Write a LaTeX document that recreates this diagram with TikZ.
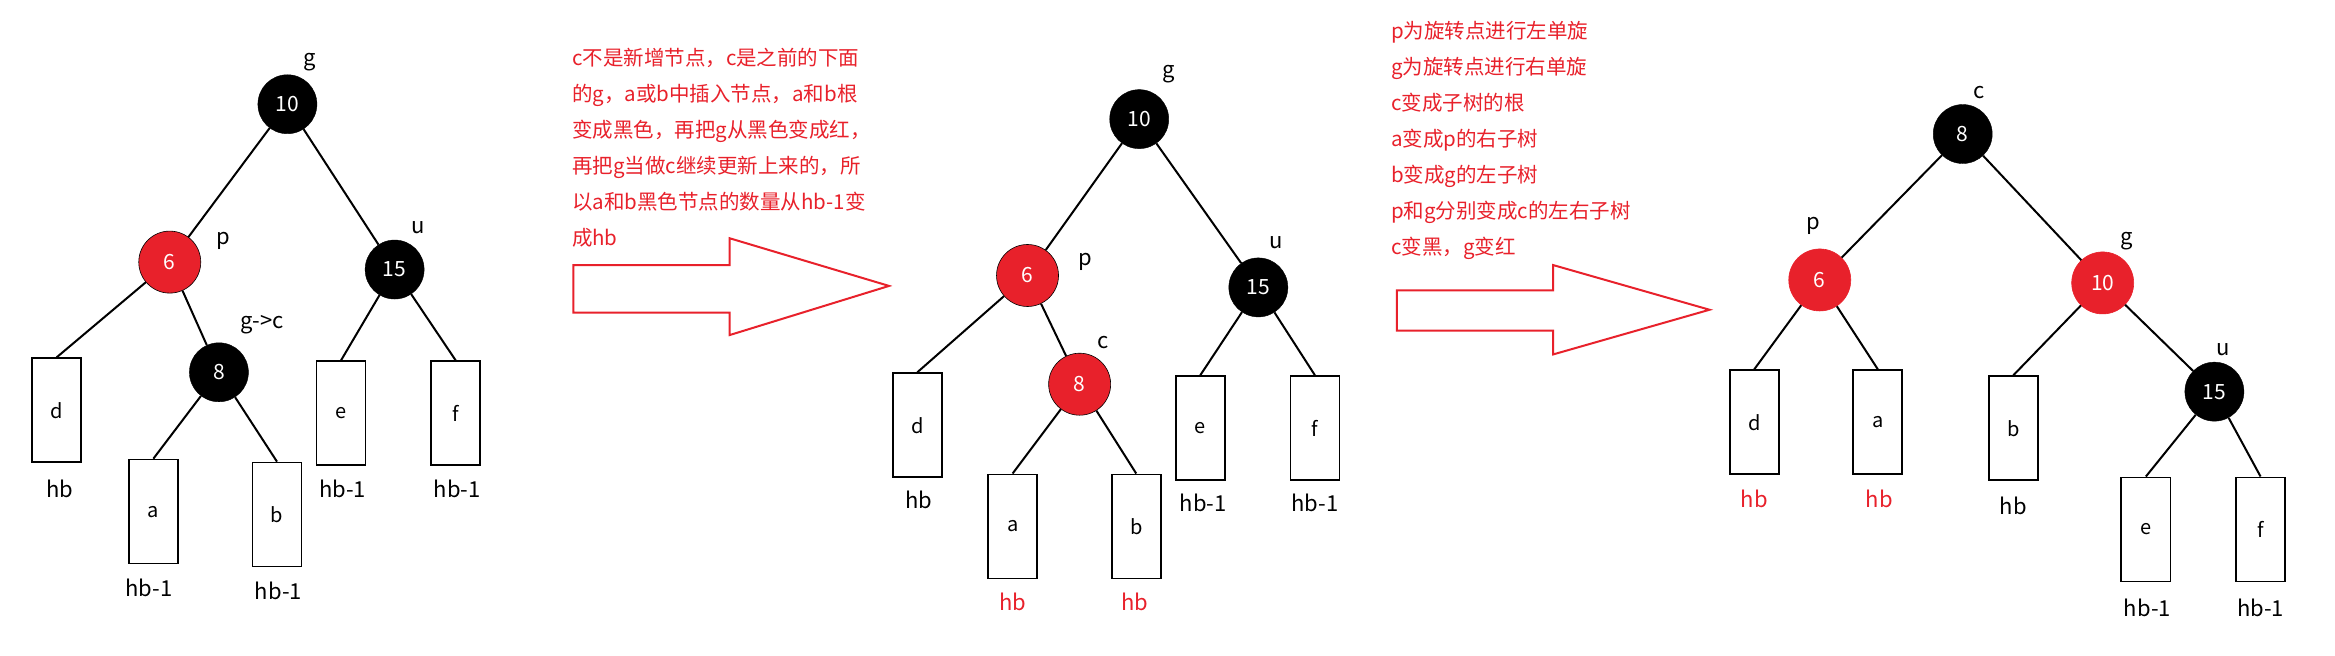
\documentclass[tikz,border=0pt]{standalone}
\usepackage{fontspec}
\setmainfont{Noto Sans CJK SC}
\definecolor{rb}{HTML}{E8212B}
\begin{document}
\begin{tikzpicture}[x=1.489pt,y=-1.489pt,
 bn/.style={circle,fill=black,draw=black,minimum size=59pt,inner sep=0pt,text=white,font=\fontsize{21}{21}\selectfont},
 rn/.style={circle,fill=rb,draw=black,line width=0.6pt,minimum size=62pt,inner sep=0pt,text=white,font=\fontsize{21}{21}\selectfont},
 rn2/.style={rn,draw=rb},
 bx/.style={draw=black,line width=1.8pt,anchor=north,minimum width=49pt,minimum height=104pt,inner sep=0pt,font=\fontsize{20}{20}\selectfont},
 lb/.style={font=\fontsize{22}{22}\selectfont},
 rl/.style={lb,text=rb},
 ed/.style={line width=2pt},
 tx/.style={anchor=north west,text=rb,font=\fontsize{20.5}{36}\selectfont,align=left,inner sep=0pt},
 harrow/.style={draw=rb,line width=2pt,fill=white}]
\useasboundingbox (0,0) rectangle (1568,440);
% tree 1
\node[bn] (g1) at (193,70) {10};
\node[rn] (p1) at (114,176) {6};
\node[bn] (u1) at (265,181) {15};
\node[bn] (c1) at (147,250) {8};
\node[bx] (d1) at (38,240) {d};
\node[bx] (a1) at (103,308) {a};
\node[bx] (b1) at (186,310) {b};
\node[bx] (e1) at (229,242) {e};
\node[bx] (f1) at (306,242) {f};
\draw[ed] (g1)--(p1); \draw[ed] (g1)--(u1);
\draw[ed] (p1)--(d1.north); \draw[ed] (p1)--(c1);
\draw[ed] (c1)--(a1.north); \draw[ed] (c1)--(b1.north);
\draw[ed] (u1)--(e1.north); \draw[ed] (u1)--(f1.north);
\node[lb] (l1) at (40,328) {hb};
\node[lb] (l2) at (100,395) {hb-1};
\node[lb] (l3) at (187,397) {hb-1};
\node[lb] (l4) at (230,328) {hb-1};
\node[lb] (l5) at (307,328) {hb-1};
\node[lb] (t1) at (208,42) {g};
\node[lb] (t2) at (150,162) {p};
\node[lb] (t3) at (281,153) {u};
\node[lb] (t4) at (176,218) {g->c};
% arrow 1
\draw[harrow] (385,178) -- (490,178) -- (490,160) -- (597,192) -- (490,225) -- (490,210) -- (385,210) -- cycle;
\node[tx] (x1) at (384,32) {c不是新增节点，c是之前的下面\\的g，a或b中插入节点，a和b根\\变成黑色，再把g从黑色变成红，\\再把g当做c继续更新上来的，所\\以a和b黑色节点的数量从hb-1变\\成hb};
% tree 2
\node[bn] (g2) at (765,80) {10};
\node[rn] (p2) at (690,185) {6};
\node[bn] (u2) at (845,193) {15};
\node[rn] (c2) at (725,258) {8};
\node[bx] (d2) at (616,250) {d};
\node[bx] (a2) at (680,318) {a};
\node[bx] (b2) at (763,318) {b};
\node[bx] (e2) at (806,252) {e};
\node[bx] (f2) at (883,252) {f};
\draw[ed] (g2)--(p2); \draw[ed] (g2)--(u2);
\draw[ed] (p2)--(d2.north); \draw[ed] (p2)--(c2);
\draw[ed] (c2)--(a2.north); \draw[ed] (c2)--(b2.north);
\draw[ed] (u2)--(e2.north); \draw[ed] (u2)--(f2.north);
\node[lb] (m1) at (617,336) {hb};
\node[rl] (m2) at (680,404) {hb};
\node[rl] (m3) at (762,404) {hb};
\node[lb] (m4) at (808,338) {hb-1};
\node[lb] (m5) at (883,338) {hb-1};
\node[lb] (s1) at (785,50) {g};
\node[lb] (s2) at (729,176) {p};
\node[lb] (s3) at (741,230) {c};
\node[lb] (s4) at (857,163) {u};
% arrow 2
\draw[harrow] (938,195) -- (1043,195) -- (1043,178) -- (1148,208) -- (1043,238) -- (1043,222) -- (938,222) -- cycle;
\node[tx] (x2) at (934,14) {p为旋转点进行左单旋\\g为旋转点进行右单旋\\c变成子树的根\\a变成p的右子树\\b变成g的左子树\\p和g分别变成c的左右子树\\c变黑，g变红};
% tree 3
\node[bn] (c3) at (1318,90) {8};
\node[rn2] (p3) at (1222,188) {6};
\node[rn2] (g3) at (1412,190) {10};
\node[bn] (u3) at (1487,263) {15};
\node[bx] (d3) at (1178,248) {d};
\node[bx] (a3) at (1261,248) {a};
\node[bx] (b3) at (1352,252) {b};
\node[bx] (e3) at (1441,320) {e};
\node[bx] (f3) at (1518,320) {f};
\draw[ed] (c3)--(p3); \draw[ed] (c3)--(g3);
\draw[ed] (p3)--(d3.north); \draw[ed] (p3)--(a3.north);
\draw[ed] (g3)--(b3.north); \draw[ed] (g3)--(u3);
\draw[ed] (u3)--(e3.north); \draw[ed] (u3)--(f3.north);
\node[rl] (n1) at (1178,335) {hb};
\node[rl] (n2) at (1262,335) {hb};
\node[lb] (n3) at (1352,340) {hb};
\node[lb] (n4) at (1442,408) {hb-1};
\node[lb] (n5) at (1518,408) {hb-1};
\node[lb] (r1) at (1329,62) {c};
\node[lb] (r2) at (1218,152) {p};
\node[lb] (r3) at (1428,162) {g};
\node[lb] (r4) at (1493,235) {u};
\end{tikzpicture}
\end{document}
